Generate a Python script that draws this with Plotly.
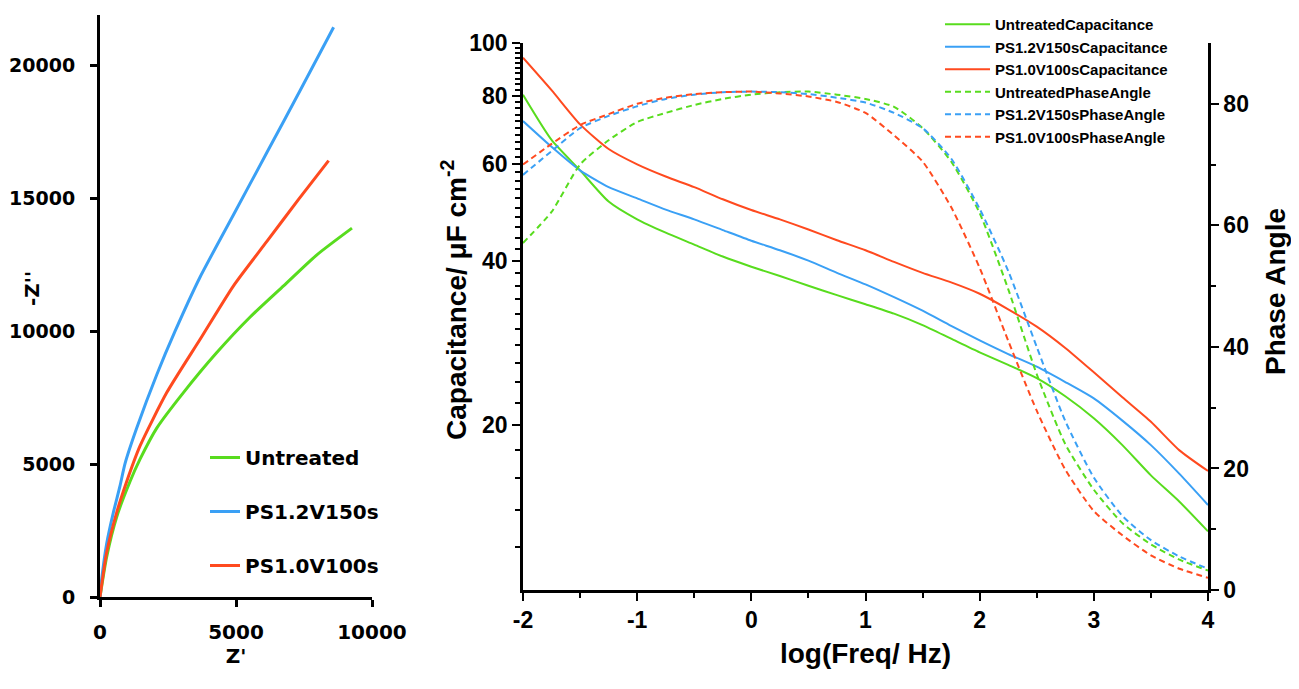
import plotly.graph_objects as go

# ---- Nyquist data (left panel) ----
zre_untreated = [0, 245, 613, 1104, 1472, 2086, 3067, 4294, 5521, 6748, 7975, 9264]
zim_untreated = [0, 1504, 3008, 4344, 5180, 6350, 7685, 9190, 10526, 11696, 12865, 13868]
zre_ps12 = [0, 61, 245, 490, 736, 920, 1350, 2086, 2760, 3681, 4908, 6135, 7362, 8589]
zim_ps12 = [0, 668, 2005, 3175, 4177, 5013, 6350, 8354, 9992, 12030, 14370, 16708, 19048, 21420]
zre_ps10 = [0, 245, 613, 982, 1472, 2454, 3681, 4908, 6135, 7300, 8405]
zim_ps10 = [0, 1670, 3175, 4344, 5680, 7685, 9690, 11700, 13366, 14950, 16405]

# ---- Bode data (right panel) ----
logf = [-2, -1.75, -1.5, -1.25, -1, -0.75, -0.5, -0.25, 0, 0.25, 0.5, 0.75, 1,
        1.25, 1.5, 1.75, 2, 2.25, 2.5, 2.75, 3, 3.25, 3.5, 3.75, 4]
cap_untreated = [80.4, 66.5, 58.5, 51.3, 47.6, 45.0, 42.8, 40.7, 39.0, 37.5, 36.0, 34.6, 33.3,
                 32.0, 30.5, 28.8, 27.2, 25.8, 24.4, 22.6, 20.6, 18.4, 16.2, 14.5, 12.8]
cap_ps12 = [72.0, 64.6, 58.5, 54.5, 52.0, 49.6, 47.6, 45.5, 43.5, 41.8, 40.0, 38.0, 36.2,
            34.3, 32.4, 30.4, 28.6, 27.0, 25.6, 24.0, 22.4, 20.4, 18.4, 16.3, 14.3]
cap_ps10 = [94.0, 82.0, 71.0, 64.0, 60.0, 57.0, 54.5, 51.8, 49.5, 47.6, 45.6, 43.6, 41.8,
            39.8, 38.0, 36.5, 34.8, 32.6, 30.3, 27.7, 25.0, 22.5, 20.3, 18.0, 16.5]
phase_untreated = [57.1, 62.2, 70.0, 74.0, 77.0, 78.5, 79.8, 80.8, 81.5, 81.9, 82.0, 81.5, 80.8,
                   79.5, 76.0, 70.5, 62.0, 49.5, 35.5, 24.0, 16.5, 11.0, 7.5, 5.0, 3.2]
phase_ps12 = [68.3, 72.2, 76.0, 78.0, 79.6, 80.8, 81.5, 81.9, 82.0, 81.9, 81.6, 81.0, 80.2,
              78.5, 76.0, 71.0, 62.7, 52.5, 40.0, 27.8, 18.5, 12.2, 8.2, 5.5, 3.5]
phase_ps10 = [70.0, 73.4, 76.5, 78.3, 80.0, 81.0, 81.6, 81.9, 82.0, 81.7, 81.2, 80.3, 78.5,
              74.8, 70.5, 63.0, 53.0, 41.0, 29.5, 19.8, 13.0, 9.0, 5.7, 3.5, 2.0]

names = ['Untreated', 'PS1.2V150s', 'PS1.0V100s']
colors = ['#58dc1e', '#3aa0f5', '#ff4a1f']

# page body keeps its 8px margin, so the figure is 16px smaller than the window
W, H = 1283, 673
OFF = 8


def px(x):
    return (x - OFF) / W


def py(y):
    return 1 - (y - OFF) / H


left_font = dict(family='DejaVu Sans', size=20, color='black', weight='bold')
right_font = dict(family='Liberation Sans, Arial', size=23, color='black', weight='bold')
title_font = dict(right_font, size=28)

fig = go.Figure()

nyq = [(zre_untreated, zim_untreated), (zre_ps12, zim_ps12), (zre_ps10, zim_ps10)]
for (zr, zi), name, col in zip(nyq, names, colors):
    fig.add_trace(go.Scatter(x=zr, y=zi, mode='lines', name=name, legend='legend',
                             legendgroup=name,
                             line=dict(color=col, width=3, shape='spline', smoothing=0.6),
                             xaxis='x', yaxis='y'))

caps = [cap_untreated, cap_ps12, cap_ps10]
for c, name, col in zip(caps, names, colors):
    fig.add_trace(go.Scatter(x=logf, y=c, mode='lines', name=name + 'Capacitance',
                             legend='legend2',
                             line=dict(color=col, width=2, shape='spline', smoothing=0.6),
                             xaxis='x2', yaxis='y2'))

phases = [phase_untreated, phase_ps12, phase_ps10]
for p, name, col in zip(phases, names, colors):
    fig.add_trace(go.Scatter(x=logf, y=p, mode='lines', name=name + 'PhaseAngle',
                             legend='legend2',
                             line=dict(color=col, width=2, dash='6px,4px', shape='spline',
                                       smoothing=0.6),
                             xaxis='x2', yaxis='y3'))

axis_common = dict(showline=True, linecolor='black', showgrid=False, zeroline=False,
                   ticks='outside', tickcolor='black', automargin=False)

fig.update_layout(
    width=W, height=H,
    margin=dict(l=0, r=0, t=0, b=0, autoexpand=False),
    paper_bgcolor='white', plot_bgcolor='white',
    # left panel
    xaxis=dict(axis_common, domain=[px(100), px(372)], anchor='y', range=[0, 10000],
               tickvals=[0, 5000, 10000], ticktext=['0', '5000', '10000'],
               linewidth=3, tickwidth=3, ticklen=7,
               tickfont=left_font, ticklabelstandoff=8,
               title=dict(text="Z'", font=left_font, standoff=4)),
    yaxis=dict(axis_common, domain=[py(597), py(15)], anchor='x', range=[0, 21880],
               tickvals=[0, 5000, 10000, 15000, 20000],
               ticktext=['0', '5000', '10000', '15000', '20000'],
               linewidth=3, tickwidth=3, ticklen=7,
               tickfont=dict(left_font, size=19), ticklabelstandoff=11),
    # right panel
    xaxis2=dict(axis_common, domain=[px(523), px(1208)], anchor='y2', range=[-2, 4],
                tickvals=[-2, -1, 0, 1, 2, 3, 4], ticktext=['-2', '-1', '0', '1', '2', '3', '4'],
                linewidth=2.5, tickwidth=2, ticklen=8, tickfont=right_font,
                minor=dict(tickvals=[-1.5, -0.5, 0.5, 1.5, 2.5, 3.5], ticks='outside',
                           ticklen=5, tickwidth=2, tickcolor='black'),
                title=dict(text='log(Freq/ Hz)', font=title_font, standoff=12)),
    yaxis2=dict(axis_common, domain=[py(590), py(43)], anchor='x2', type='log',
                range=[1, 2], tickvals=[20, 40, 60, 80, 100],
                ticktext=['20', '40', '60', '80', '100'], linewidth=2.5, tickwidth=2,
                ticklen=8, tickfont=right_font,
                minor=dict(tickvals=[v for v in range(12, 100, 2) if v not in (20, 40, 60, 80)],
                           ticks='outside', ticklen=5, tickwidth=1.5, tickcolor='black')),
    yaxis3=dict(axis_common, overlaying='y2', side='right', anchor='x2', range=[0, 90],
                tickvals=[0, 20, 40, 60, 80], linewidth=2.5, tickwidth=2, ticklen=8,
                tickfont=right_font,
                minor=dict(tickvals=[10, 30, 50, 70], ticks='outside', ticklen=5,
                           tickwidth=2, tickcolor='black')),
    legend=dict(x=px(205), y=py(438), xanchor='left', yanchor='top',
                bgcolor='rgba(0,0,0,0)', font=left_font, tracegroupgap=25, itemwidth=30),
    legend2=dict(x=px(940), y=1.0, xanchor='left', yanchor='top',
                 bgcolor='rgba(0,0,0,0)', font=dict(right_font, size=15), itemwidth=45,
                 tracegroupgap=0),
    annotations=[
        dict(text="-Z''", x=px(32), y=py(289), xref='paper', yref='paper',
             textangle=-90, showarrow=False, font=left_font,
             xanchor='center', yanchor='middle'),
        dict(text='Capacitance/ μF cm<sup>-2</sup>', x=px(454), y=py(300),
             xref='paper', yref='paper', textangle=-90, showarrow=False,
             font=title_font, xanchor='center', yanchor='middle'),
        dict(text='Phase Angle', x=px(1275), y=py(292), xref='paper', yref='paper',
             textangle=-90, showarrow=False, font=title_font,
             xanchor='center', yanchor='middle'),
    ],
)

fig.write_html("out.html")
